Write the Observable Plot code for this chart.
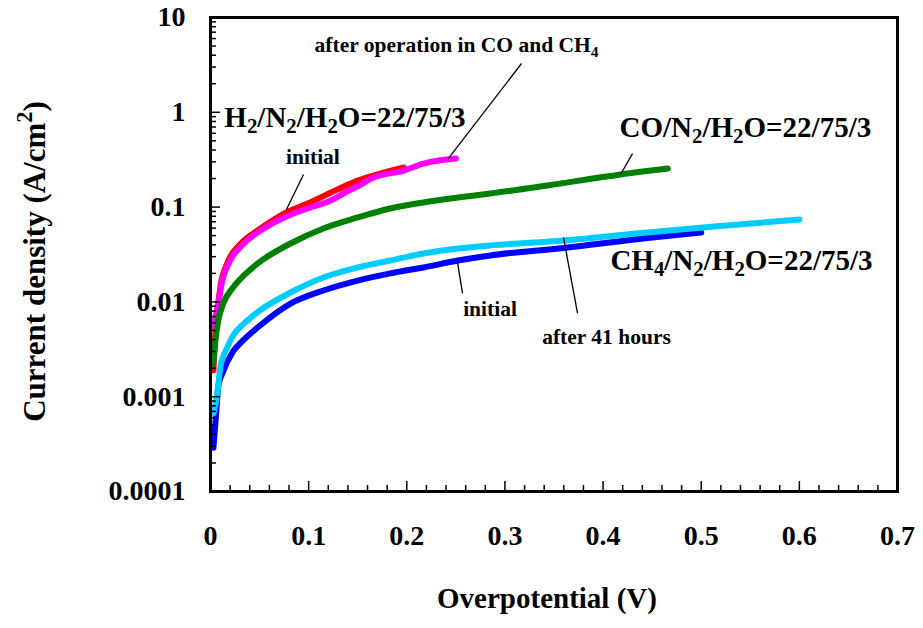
<!DOCTYPE html>
<html><head><meta charset="utf-8">
<script src="https://cdn.jsdelivr.net/npm/d3@7"></script>
<script src="https://cdn.jsdelivr.net/npm/@observablehq/plot@0.6"></script>
<style>body{margin:0;background:#fff}</style>
</head><body><div id="chart"></div>
<script>
// ---- data ----
const h2InitialX = [0.003,0.004,0.007,0.010,0.017,0.031,0.048,0.075,0.099,0.132,0.150,0.166,0.197];
const h2InitialY = [0.0019,0.0033,0.0076,0.0142,0.0254,0.0413,0.0566,0.0855,0.109,0.158,0.190,0.215,0.262];
const h2AfterX = [0.003,0.007,0.012,0.020,0.034,0.051,0.075,0.099,0.122,0.140,0.150,0.166,0.197,0.217,0.250];
const h2AfterY = [0.0054,0.0087,0.0168,0.0273,0.0413,0.0566,0.0777,0.0967,0.117,0.148,0.166,0.205,0.243,0.288,0.326];
const coX = [0.003,0.005,0.008,0.013,0.023,0.034,0.048,0.0815,0.115,0.150,0.183,0.217,0.252,0.285,0.343,0.418,0.466];
const coY = [0.00224,0.0039,0.0064,0.0096,0.0142,0.019,0.0254,0.0413,0.0595,0.0777,0.0967,0.112,0.126,0.139,0.169,0.221,0.255];
const ch4InitialX = [0.003,0.006,0.008,0.012,0.023,0.034,0.048,0.0815,0.115,0.150,0.183,0.217,0.252,0.285,0.36,0.445,0.50];
const ch4InitialY = [0.00029,0.00072,0.00131,0.00176,0.00300,0.0040,0.00537,0.0096,0.0132,0.0168,0.0200,0.0231,0.0273,0.0309,0.0370,0.0472,0.054];
const ch4AfterX = [0.003,0.007,0.010,0.017,0.023,0.034,0.048,0.0815,0.115,0.150,0.183,0.217,0.252,0.285,0.36,0.445,0.513,0.60];
const ch4AfterY = [0.00067,0.00108,0.00203,0.0033,0.0044,0.0059,0.0078,0.01256,0.0181,0.0231,0.0273,0.0324,0.0366,0.0394,0.0444,0.054,0.0624,0.074];

const xTicks = [0,0.1,0.2,0.3,0.4,0.5,0.6,0.7];
const xTickLabels = ["0","0.1","0.2","0.3","0.4","0.5","0.6","0.7"];
const xMinorTicks = [0.02,0.04,0.06,0.08,0.12,0.14,0.16,0.18,0.22,0.24,0.26,0.28,0.32,0.34,0.36,0.38,0.42,0.44,0.46,0.48,0.52,0.54,0.56,0.58,0.62,0.64,0.66,0.68];
const yTicks = [0.0001,0.001,0.01,0.1,1,10];
const yTickLabels = ["0.0001","0.001","0.01","0.1","1","10"];
const yMinorTicks = [];
for (const d of [0.0001,0.001,0.01,0.1,1]) for (const m of [2,3,4,5,6,7,8,9]) yMinorTicks.push(+(m*d).toPrecision(3));

const xTitle = "Overpotential (V)";
const yTitle = "Current density (A/cm^2)";

// annotations (data coordinates)
const bigLabels = [
  {x: 0.137, y: 0.88, t: "H_2/N_2/H_2O=22/75/3"},
  {x: 0.545, y: 0.69, t: "CO/N_2/H_2O=22/75/3"},
  {x: 0.541, y: 0.0273, t: "CH_4/N_2/H_2O=22/75/3"}
];
const smallLabels = [
  {x: 0.2507, y: 5.07, t: "after operation in CO and CH_4"},
  {x: 0.1044, y: 0.333, t: "initial"},
  {x: 0.2848, y: 0.00832, t: "initial"},
  {x: 0.4035, y: 0.00421, t: "after 41 hours"}
];
const leaders = [
  {x1: 0.2425, y1: 0.326, x2: 0.3169, y2: 3.27},
  {x1: 0.0948, y1: 0.221, x2: 0.0774, y2: 0.0944},
  {x1: 0.430, y1: 0.367, x2: 0.4178, y2: 0.221},
  {x1: 0.2517, y1: 0.0261, x2: 0.2568, y2: 0.01227},
  {x1: 0.3597, y1: 0.0478, x2: 0.374, y2: 0.00755}
];

const series = [
  {x: h2InitialX, y: h2InitialY, color: "#ff0000"},
  {x: h2AfterX, y: h2AfterY, color: "#ff00ff"},
  {x: coX, y: coY, color: "#008000"},
  {x: ch4InitialX, y: ch4InitialY, color: "#0000ff"},
  {x: ch4AfterX, y: ch4AfterY, color: "#00ccff"}
];

// ---- rich text (sub/superscripts) ----
const SVGNS = "http://www.w3.org/2000/svg";
function rich(fs) {
  return (index, scales, values, dims, context, next) => {
    const g = next(index, scales, values, dims, context);
    g.querySelectorAll("text").forEach(el => {
      const s = el.textContent;
      el.textContent = "";
      const parts = s.split(/([_^]\d)/);
      let shift = 0;
      for (const p of parts) {
        if (!p) continue;
        const t = document.createElementNS(SVGNS, "tspan");
        if (p[0] === "_" || p[0] === "^") {
          const d = p[0] === "_" ? fs * 0.22 : -fs * 0.42;
          t.textContent = p.slice(1);
          t.setAttribute("font-size", (fs * 0.72) + "px");
          t.setAttribute("dy", (d - shift) + "px");
          shift = d;
        } else {
          t.textContent = p;
          if (shift) t.setAttribute("dy", (-shift) + "px");
          shift = 0;
        }
        el.appendChild(t);
      }
    });
    return g;
  };
}

const font = "Liberation Serif, Times New Roman, serif";
const marks = [];
for (const s of series) {
  marks.push(Plot.line(s.x.map((v, i) => [v, s.y[i]]), {
    x: d => d[0], y: d => d[1], stroke: s.color, strokeWidth: 6,
    strokeLinecap: "round", strokeLinejoin: "round", curve: "monotone-x"
  }));
}
marks.push(
  Plot.link(leaders, {x1: "x1", y1: "y1", x2: "x2", y2: "y2", stroke: "black", strokeWidth: 1.3}),
  Plot.text(bigLabels, {x: "x", y: "y", text: "t", fontSize: 29, fontWeight: "bold", fill: "black", render: rich(29)}),
  Plot.text(smallLabels, {x: "x", y: "y", text: "t", fontSize: 21.5, fontWeight: "bold", fill: "black", render: rich(21.5)}),
  Plot.axisX(xTicks, {tickSize: 0, tickPadding: 34, fontSize: 28, fontWeight: "bold",
    tickFormat: d => xTickLabels[xTicks.indexOf(d)], label: null}),
  Plot.axisX(xTicks, {tickSize: -10, text: null, strokeWidth: 1.5, label: null}),
  Plot.axisX(xMinorTicks, {tickSize: -6, text: null, strokeWidth: 1.5, label: null}),
  Plot.axisY(yTicks, {tickSize: 0, tickPadding: 25, fontSize: 28, fontWeight: "bold",
    tickFormat: d => yTickLabels[yTicks.indexOf(d)], label: null}),
  Plot.axisY(yTicks, {tickSize: -10, text: null, strokeWidth: 1.5, label: null}),
  Plot.axisY(yMinorTicks, {tickSize: -6, text: null, strokeWidth: 1.5, label: null}),
  Plot.text([xTitle], {frameAnchor: "bottom", textAnchor: "middle", dx: -7, dy: 116,
    fontSize: 29, fontWeight: "bold", fill: "black"}),
  Plot.text([yTitle], {frameAnchor: "left", textAnchor: "middle", rotate: -90, dx: -175, dy: 7,
    fontSize: 31, fontWeight: "bold", fill: "black", render: rich(31)}),
  Plot.frame({stroke: "black", strokeWidth: 3})
);

const chart = Plot.plot({
  width: 923, height: 628,
  marginLeft: 210, marginRight: 26, marginTop: 17, marginBottom: 137,
  style: {fontFamily: font, background: "#fff", color: "black"},
  x: {domain: [0, 0.7]},
  y: {type: "log", domain: [0.0001, 10]},
  marks
});
document.getElementById("chart").appendChild(chart);
</script></body></html>
